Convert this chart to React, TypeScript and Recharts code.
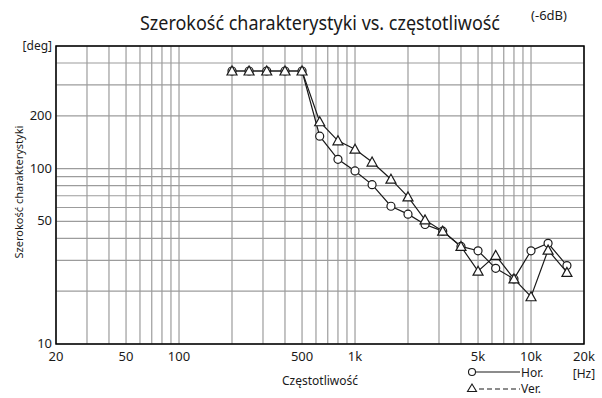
import { LineChart, Line, XAxis, YAxis, CartesianGrid, ReferenceArea } from 'recharts';

// 1/3 octave bands, values in degrees (-6dB beam width)
const freqs = [200, 250, 315, 400, 500, 630, 800, 1000, 1250, 1600, 2000, 2500, 3150, 4000, 5000, 6300, 8000, 10000, 12500, 16000];
const horValues = [360, 360, 360, 360, 360, 153, 113, 97, 81, 61, 55, 48, 44, 36, 34, 27, 23.5, 34, 37.5, 28];
const verValues = [360, 360, 360, 360, 360, 185, 144, 129, 109, 87, 69, 51, 44, 36, 26, 32, 23.5, 18.6, 34.3, 25.6];

const xTicks = [20, 30, 40, 50, 60, 70, 80, 90, 100, 200, 300, 400, 500, 600, 700, 800, 900, 1000, 2000, 3000, 4000, 5000, 6000, 7000, 8000, 9000, 10000, 20000];
const xLabels: Record<number, string> = { 20: '20', 50: '50', 100: '100', 500: '500', 1000: '1k', 5000: '5k', 10000: '10k', 20000: '20k' };
const yTicks = [10, 20, 30, 40, 50, 60, 70, 80, 90, 100, 200, 300, 400, 500];
const yLabels: Record<number, string> = { 10: '10', 50: '50', 100: '100', 200: '200', 500: '[deg]' };

const data = freqs.map((f, i) => ({ freq: f, hor: horValues[i], ver: verValues[i] }));

const FONT = '"Noto Sans", "Open Sans", sans-serif';
const INK = '#1a1a1a';

const XTick = (props: any) => {
  const { x, payload } = props;
  const label = xLabels[payload.value];
  if (!label) return null;
  return (
    <g>
      <text x={x} y={361} textAnchor="middle" fontSize={13} fontFamily={FONT} fill={INK}>
        {label}
      </text>
      {payload.value === 20000 && (
        <text x={x} y={378} textAnchor="middle" fontSize={12} fontFamily={FONT} fill={INK}>
          [Hz]
        </text>
      )}
    </g>
  );
};

const YTick = (props: any) => {
  const { y, payload } = props;
  const label = yLabels[payload.value];
  if (!label) return null;
  return (
    <text x={52} y={y} dy={4} textAnchor="end" fontSize={payload.value === 500 ? 12 : 13} fontFamily={FONT} fill={INK}>
      {label}
    </text>
  );
};

const CircleDot = (props: any) => {
  const { cx, cy, index } = props;
  return <circle key={'c' + index} cx={cx} cy={cy} r={4} fill="#fff" stroke={INK} strokeWidth={1.2} />;
};

const TriangleDot = (props: any) => {
  const { cx, cy, index } = props;
  const pts = `${cx},${cy - 5} ${cx - 5},${cy + 4} ${cx + 5},${cy + 4}`;
  return <polygon key={'t' + index} points={pts} fill="#fff" stroke={INK} strokeWidth={1.2} />;
};

export default function App() {
  return (
    <div style={{ position: 'absolute', left: 0, top: 0, width: 602, height: 398, background: '#fff' }}>
      <LineChart width={602} height={398} data={data} margin={{ top: 46, right: 18, left: 0, bottom: 0 }}>
        <CartesianGrid stroke="#9c9c9c" strokeWidth={1.2} />
        <XAxis
          dataKey="freq"
          type="number"
          scale="log"
          domain={[20, 20000]}
          ticks={xTicks}
          interval={0}
          allowDataOverflow
          axisLine={false}
          tickLine={false}
          tick={<XTick />}
          height={54}
        />
        <YAxis
          type="number"
          scale="log"
          domain={[10, 500]}
          ticks={yTicks}
          interval={0}
          allowDataOverflow
          axisLine={false}
          tickLine={false}
          tick={<YTick />}
          width={56}
        />
        <ReferenceArea x1={20} x2={20000} y1={10} y2={500} fill="none" stroke="#000" strokeWidth={1.5} />
        <Line dataKey="hor" stroke={INK} strokeWidth={1.2} dot={<CircleDot />} isAnimationActive={false} />
        <Line dataKey="ver" stroke={INK} strokeWidth={1.2} dot={<TriangleDot />} isAnimationActive={false} />
      </LineChart>
      <svg width={602} height={398} style={{ position: 'absolute', left: 0, top: 0, pointerEvents: 'none' }}>
        <text
          x={140}
          y={30}
          fontSize={19}
          fontFamily={FONT}
          fill={INK}
          textLength={360}
          lengthAdjust="spacingAndGlyphs"
        >
          Szerokość charakterystyki vs. częstotliwość
        </text>
        <text x={549} y={20} textAnchor="middle" fontSize={13} fontFamily={FONT} fill={INK}>
          (-6dB)
        </text>
        <text
          x={18}
          y={192}
          transform="rotate(-90 18 192)"
          textAnchor="middle"
          dominantBaseline="central"
          fontSize={11}
          fontFamily={FONT}
          fill={INK}
        >
          Szerokość charakterystyki
        </text>
        <text x={320} y={385} textAnchor="middle" fontSize={12} fontFamily={FONT} fill={INK}>
          Częstotliwość
        </text>
        <circle cx={472} cy={372} r={3.5} fill="#fff" stroke={INK} strokeWidth={1.1} />
        <line x1={476} y1={372} x2={520} y2={372} stroke={INK} strokeWidth={1.1} />
        <text x={521} y={376.5} fontSize={12} fontFamily={FONT} fill={INK}>Hor.</text>
        <polygon points="472,384 467.5,391.5 476.5,391.5" fill="#fff" stroke={INK} strokeWidth={1.1} />
        <line x1={479} y1={389} x2={520} y2={389} stroke={INK} strokeWidth={1.1} strokeDasharray="5 3" />
        <text x={521} y={393} fontSize={12} fontFamily={FONT} fill={INK}>Ver.</text>
      </svg>
    </div>
  );
}
